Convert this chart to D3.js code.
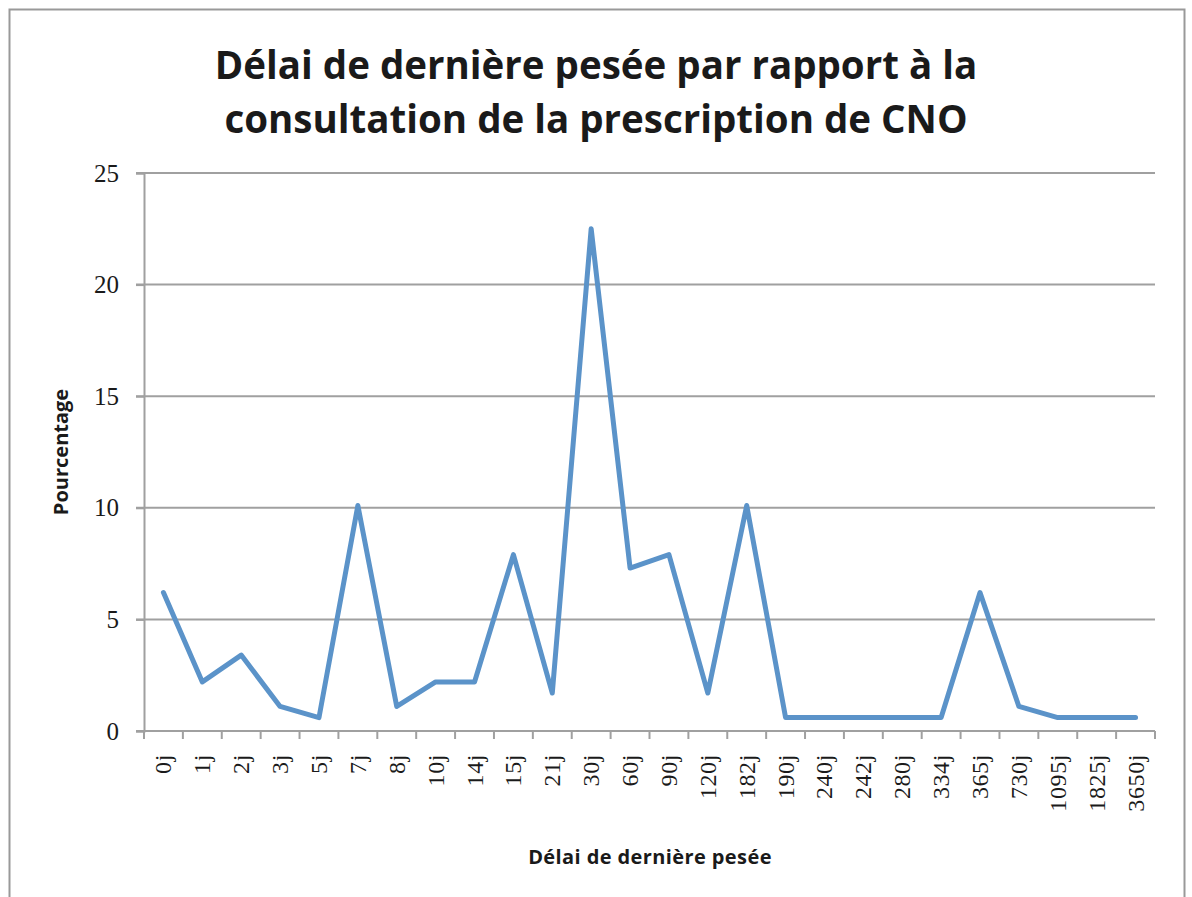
<!DOCTYPE html>
<html>
<head>
<meta charset="utf-8">
<script src="https://cdn.jsdelivr.net/npm/d3@7"></script>
<style>
  body { margin: 0; background: #fff; }
  svg text { fill: #1a1a1a; }
</style>
</head>
<body>
<div id="chart"></div>
<script>
const categories = ["0j", "1j", "2j", "3j", "5j", "7j", "8j", "10j", "14j", "15j", "21j", "30j", "60j",
    "90j", "120j", "182j", "190j", "240j", "242j", "280j", "334j", "365j", "730j", "1095j", "1825j", "3650j"];
const percentages = [6.2, 2.2, 3.4, 1.1, 0.6, 10.1, 1.1, 2.2, 2.2, 7.9, 1.7, 22.5, 7.3,
    7.9, 1.7, 10.1, 0.6, 0.6, 0.6, 0.6, 0.6, 6.2, 1.1, 0.6, 0.6, 0.6];
const yTicks = [0, 5, 10, 15, 20, 25];

const width = 1192, height = 897;
const margin = { top: 173, right: 37, bottom: 166, left: 144 };

const svg = d3.select("#chart").append("svg")
    .attr("width", width)
    .attr("height", height);

// Chart frame
svg.append("rect")
    .attr("x", 9.5).attr("y", 9.5)
    .attr("width", 1175).attr("height", 900)
    .attr("fill", "none")
    .attr("stroke", "#999")
    .attr("stroke-width", 2);

const x = d3.scaleBand()
    .domain(categories)
    .range([margin.left, width - margin.right]);

const y = d3.scaleLinear()
    .domain([0, 25])
    .range([height - margin.bottom, margin.top]);

// Gridlines
svg.append("g")
    .selectAll("line")
    .data(yTicks.filter(d => d > 0))
    .enter().append("line")
    .attr("x1", margin.left - 8)
    .attr("x2", width - margin.right)
    .attr("y1", d => y(d))
    .attr("y2", d => y(d))
    .attr("stroke", "#a0a0a0")
    .attr("stroke-width", 2);

// Y axis
const yAxis = svg.append("g")
    .attr("transform", `translate(${margin.left},0)`)
    .call(d3.axisLeft(y).tickValues(yTicks).tickSize(8).tickPadding(17));
yAxis.select(".domain").attr("stroke", "#a0a0a0").attr("stroke-width", 2);
yAxis.selectAll(".tick line").attr("stroke", "#a0a0a0").attr("stroke-width", 2);
yAxis.selectAll(".tick text")
    .attr("font-family", "'Liberation Serif', 'DejaVu Serif', serif")
    .attr("font-size", 25)
    .attr("fill", "#1a1a1a");

// X axis: ticks at band edges
const xAxisG = svg.append("g")
    .attr("transform", `translate(0,${y(0)})`);
xAxisG.append("line")
    .attr("x1", margin.left - 8)
    .attr("x2", width - margin.right)
    .attr("stroke", "#a0a0a0")
    .attr("stroke-width", 2);
const edges = categories.map(c => x(c)).concat([x.range()[1]]);
xAxisG.selectAll(".xtick")
    .data(edges)
    .enter().append("line")
    .attr("class", "xtick")
    .attr("x1", d => d).attr("x2", d => d)
    .attr("y1", 0).attr("y2", 8)
    .attr("stroke", "#a0a0a0")
    .attr("stroke-width", 2);
xAxisG.selectAll(".xlabel")
    .data(categories)
    .enter().append("text")
    .attr("class", "xlabel")
    .attr("transform", d => `translate(${x(d) + x.bandwidth() / 2 + 8},23) rotate(-90)`)
    .attr("text-anchor", "end")
    .attr("font-family", "'Liberation Serif', 'DejaVu Serif', serif")
    .attr("font-size", 24)
    .attr("letter-spacing", 0.6)
    .attr("fill", "#1a1a1a")
    .text(d => d);

// Line
const line = d3.line()
    .x((d, i) => x(categories[i]) + x.bandwidth() / 2)
    .y(d => y(d));

svg.append("path")
    .datum(percentages)
    .attr("d", line)
    .attr("fill", "none")
    .attr("stroke", "#5b93c9")
    .attr("stroke-width", 5)
    .attr("stroke-linejoin", "round")
    .attr("stroke-linecap", "round");

// Title
const title = svg.append("text")
    .attr("text-anchor", "middle")
    .attr("font-family", "'Open Sans', 'Noto Sans', sans-serif")
    .attr("font-weight", "bold")
    .attr("font-size", 38.5)
    .attr("fill", "#1a1a1a");
title.append("tspan").attr("x", 596).attr("y", 79).text("Délai de dernière pesée par rapport à la");
title.append("tspan").attr("x", 596).attr("y", 133).text("consultation de la prescription de CNO");

// Axis titles
svg.append("text")
    .attr("transform", `translate(68,${(y(0) + y(25)) / 2}) rotate(-90)`)
    .attr("text-anchor", "middle")
    .attr("font-family", "'Open Sans', 'Noto Sans', sans-serif")
    .attr("font-weight", "bold")
    .attr("font-size", 20)
    .attr("fill", "#1a1a1a")
    .text("Pourcentage");

svg.append("text")
    .attr("x", 650)
    .attr("y", 864)
    .attr("text-anchor", "middle")
    .attr("font-family", "'Open Sans', 'Noto Sans', sans-serif")
    .attr("font-weight", "bold")
    .attr("font-size", 20)
    .attr("letter-spacing", 0.4)
    .attr("fill", "#1a1a1a")
    .text("Délai de dernière pesée");
</script>
</body>
</html>
